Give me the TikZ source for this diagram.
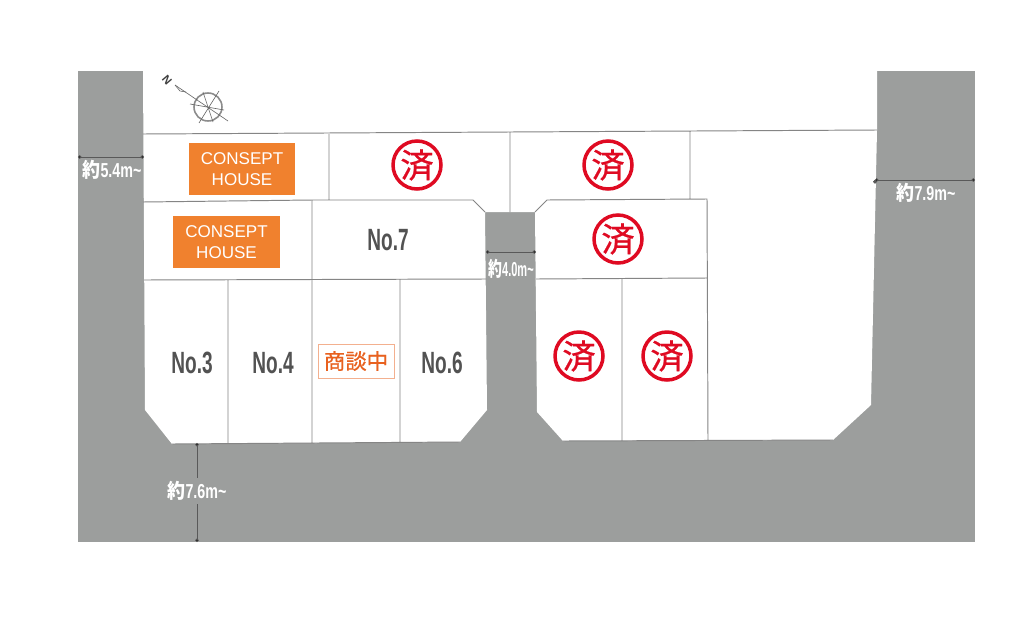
\documentclass[tikz,border=0pt]{standalone}
\usepackage{fontspec}
\usepackage{graphicx}
\usetikzlibrary{arrows.meta}
\setmainfont{Liberation Sans}
\newfontfamily\cjkfont[FakeBold=0.7]{Noto Sans CJK JP}
\newfontfamily\narrowfont[FakeStretch=0.62]{Liberation Sans}
\newfontfamily\cjknarrow[FakeStretch=0.78]{Noto Sans CJK JP}
\definecolor{roadgray}{HTML}{9C9E9D}
\definecolor{lotline}{HTML}{858585}
\definecolor{houseorange}{HTML}{F0812E}
\definecolor{talkorange}{HTML}{E8611F}
\definecolor{stampred}{HTML}{DF0A22}
\tikzset{
    lot/.style={draw=lotline,line width=0.55pt},
    house/.style={fill=houseorange,text=white,font=\fontsize{9.7}{11.8}\selectfont,align=center,inner sep=0pt},
    lotno/.style={text=black!68,font=\narrowfont\bfseries\fontsize{17.5}{17.5}\selectfont,inner sep=0pt},
    stamp/.style={circle,draw=stampred,line width=0.07cm,minimum size=0.96cm,inner sep=0pt,text=stampred,font=\cjkfont\fontsize{19}{19}\selectfont},
    width/.style={draw=black!65,line width=0.45pt,{Circle[length=2pt,width=2pt]}-{Circle[length=2pt,width=2pt]}},
    widthlabel/.style={text=white,font=\bfseries\fontsize{11.5}{12}\selectfont,inner sep=0pt}
}
\newcommand{\widthtext}[2][1.14]{\scalebox{#1}[1]{{\cjknarrow 約}{\narrowfont #2m\textasciitilde}}}
\begin{document}
\begin{tikzpicture}[x=0.02cm,y=-0.02cm]
    \useasboundingbox (0,0) rectangle (1024,622);
    \fill[white] (0,0) rectangle (1024,622);
    \fill[roadgray] (78,71) rectangle (975,542);
    % corners of the plot
    \coordinate (tl) at (143,71);
    \coordinate (tr) at (877,71);
    \coordinate (re) at (877,130);
    \coordinate (br1) at (871,405);
    \coordinate (br2) at (833,440);
    \coordinate (c1) at (563,441);
    \coordinate (c2) at (537,412);
    \coordinate (c3) at (535,212);
    \coordinate (d3) at (485,212);
    \coordinate (d2) at (487,410);
    \coordinate (d1) at (460,442);
    \coordinate (bl2) at (172,444);
    \coordinate (bl1) at (145,410);
    \coordinate (le) at (143,134);
    \fill[white] (tl) -- (tr) -- (re) -- (br1) -- (br2) -- (c1) -- (c2) -- (c3) -- (d3) -- (d2) -- (d1) -- (bl2) -- (bl1) -- cycle;
    % lots
    \coordinate (r2l) at (143,202);
    \coordinate (r2a) at (312,200);
    \coordinate (r2b) at (473,200);
    \coordinate (r3l) at (144,280);
    \coordinate (r3r) at (486,279);
    \coordinate (b4) at (228,443);
    \coordinate (b5) at (312,443);
    \coordinate (b6) at (400,442);
    \coordinate (t4) at (228,280);
    \coordinate (t6) at (400,279);
    \coordinate (ta) at (329,134);
    \coordinate (tb) at (510,132);
    \coordinate (tc) at (690,131);
    \coordinate (ma) at (329,200);
    \coordinate (mb) at (510,212);
    \coordinate (mc) at (690,199);
    \coordinate (e1) at (547,200);
    \coordinate (e2) at (707,199);
    \coordinate (e3) at (708,440);
    \coordinate (f1) at (536,279);
    \coordinate (f2) at (707,278);
    \coordinate (g1) at (622,279);
    \coordinate (g2) at (622,440);
    \path[lot]
        (le) -- (re)
        (r2l) -- (r2a) -- (r2b) -- (d3)
        (ta) -- (ma)
        (tb) -- (mb)
        (tc) -- (mc)
        (c3) -- (e1) -- (e2) -- (e3)
        (r2a) -- (b5)
        (r3l) -- (r3r)
        (t4) -- (b4)
        (t6) -- (b6)
        (f1) -- (f2)
        (g1) -- (g2)
        (bl2) -- (d1)
        (c1) -- (br2);
    % compass
    \node (compass) [circle,draw=black!45,line width=0.9pt,minimum size=0.56cm,inner sep=0pt] at (208,107) {};
    \coordinate (needle) at (175,85);
    \coordinate (tail) at (228,121);
    \draw[black!60,line width=0.35pt] (needle) -- (tail);
    \draw[black!60,line width=0.35pt] (199,123) -- (219,91) (190,104) -- (224,110) (203,92) -- (213,122);
    \draw[black!60,line width=0.35pt] (needle) -- (180,91) -- (186,92);
    \node (north) [rotate=-50,font=\bfseries\fontsize{6.5}{6.5}\selectfont,text=black!75,inner sep=0pt] at (167,80) {N};
    % lot labels
    \node (house1) [house,minimum width=2.12cm,minimum height=1.04cm] at (242,169) {CONSEPT\\HOUSE};
    \node (house2) [house,minimum width=2.14cm,minimum height=1.04cm] at (226.5,242) {CONSEPT\\HOUSE};
    \begin{scope}[every node/.style={lotno}]
        \node (no7) at (388,240) {No.7};
        \node (no3) at (192,363) {No.3};
        \node (no4) at (273,363) {No.4};
        \node (no6) at (442,363) {No.6};
    \end{scope}
    \node (talk) [draw=talkorange!50,line width=0.4pt,text=talkorange,font=\cjkfont\fontsize{12.2}{12.2}\selectfont,minimum width=1.52cm,minimum height=0.68cm,inner sep=0pt] at (356,361) {商談中};
    \begin{scope}[every node/.style={stamp}]
        \node (s1) at (417,165) {済};
        \node (s2) at (608,165) {済};
        \node (s3) at (618,239) {済};
        \node (s4) at (579,356) {済};
        \node (s5) at (667,356) {済};
    \end{scope}
    % road widths
    \coordinate (w1a) at (78,157);
    \coordinate (w1b) at (144,157);
    \coordinate (w2a) at (486,252);
    \coordinate (w2b) at (536,252);
    \coordinate (w3a) at (197,443);
    \coordinate (w3b) at (197,542);
    \coordinate (w4a) at (875,180);
    \coordinate (w4b) at (975,180);
    \path[width] (w1a) edge (w1b) (w2a) edge (w2b) (w3a) edge (w3b) (w4a) edge (w4b);
    \begin{scope}[every node/.style={widthlabel}]
        \node (l1) at (112,170) {\widthtext{5.4}};
        \node (l2) at (511,269) {\widthtext[0.88]{4.0}};
        \node (l3) [fill=roadgray,inner ysep=2pt] at (197,491) {\widthtext{7.6}};
        \node (l4) at (926,193) {\widthtext{7.9}};
    \end{scope}
\end{tikzpicture}
\end{document}
